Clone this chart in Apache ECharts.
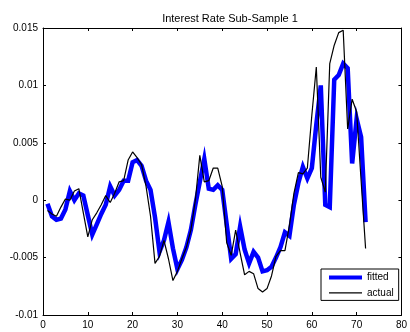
<!DOCTYPE html>
<html>
<head>
<meta charset="utf-8">
<script src="https://cdn.jsdelivr.net/npm/echarts@6/dist/echarts.min.js"></script>
<style>html,body{margin:0;padding:0;background:#fff;}#c{width:410px;height:332px;}</style>
</head>
<body>
<div id="c"></div>
<script>
const titleText = 'Interest Rate Sub-Sample 1';
const xTicks = [0, 10, 20, 30, 40, 50, 60, 70, 80];
const yTicks = [-0.01, -0.005, 0, 0.005, 0.01, 0.015];
const periods = [];
for (let i = 1; i <= 72; i++) periods.push(i);
const fitted = [
  -0.0003, -0.0014, -0.0017, -0.0016, -0.0008, 0.0008, 0.0000, 0.0006, 0.0004, -0.0013,
  -0.0030, -0.0021, -0.0012, -0.0004, 0.0012, 0.0004, 0.0009, 0.0017, 0.0017, 0.0033,
  0.0035, 0.0030, 0.0017, 0.0009, -0.0015, -0.0045, -0.0035, -0.0019, -0.0042, -0.0060,
  -0.0052, -0.0041, -0.0026, -0.0004, 0.0016, 0.0036, 0.0010, 0.0009, 0.0013, 0.0009,
  -0.0021, -0.0051, -0.0047, -0.0023, -0.0043, -0.0055, -0.0045, -0.0050, -0.0062, -0.0061,
  -0.0058, -0.0050, -0.0041, -0.0028, -0.0031, -0.0004, 0.0015, 0.0029, 0.0019, 0.0028,
  0.0066, 0.0100, -0.0004, -0.0006, 0.0105, 0.0109, 0.0119, 0.0115, 0.0032, 0.0071,
  0.0055, -0.0019
];
const actual = [
  -0.0009, -0.0012, -0.0014, -0.0006, 0.0001, 0.0000, 0.0008, 0.0010, -0.0011, -0.0032,
  -0.0017, -0.0011, -0.0004, 0.0004, -0.0002, 0.0006, 0.0016, 0.0017, 0.0035, 0.0042,
  0.0037, 0.0031, 0.0012, -0.0014, -0.0055, -0.0049, -0.0035, -0.0051, -0.0070, -0.0062,
  -0.0051, -0.0041, -0.0026, 0.0000, 0.0039, 0.0016, 0.0017, 0.0028, 0.0028, 0.0012,
  -0.0037, -0.0048, -0.0026, -0.0046, -0.0065, -0.0062, -0.0064, -0.0077, -0.0080, -0.0077,
  -0.0066, -0.0049, -0.0044, -0.0044, -0.0022, 0.0006, 0.0024, 0.0023, 0.0028, 0.0074,
  0.0116, 0.0020, 0.0007, 0.0119, 0.0135, 0.0146, 0.0148, 0.0062, 0.0088, 0.0077,
  0.0017, -0.0042
];
const seriesNames = ['fitted', 'actual'];

const font = 'Liberation Sans, Arial, Helvetica, sans-serif';
const chart = echarts.init(document.getElementById('c'), null, {renderer: 'canvas'});
const xMin = xTicks[0], xMax = xTicks[xTicks.length - 1], xInt = xTicks[1] - xTicks[0];
const yMin = yTicks[0], yMax = yTicks[yTicks.length - 1], yInt = yTicks[1] - yTicks[0];
const axisCommon = {
  axisLine: {show: true, onZero: false, lineStyle: {color: '#000', width: 1}},
  axisTick: {show: true, inside: true, length: 3, lineStyle: {color: '#000'}},
  splitLine: {show: false}
};
chart.setOption({
  animation: false,
  backgroundColor: '#fff',
  title: {
    text: titleText, left: 225, top: 8, textAlign: 'center',
    textStyle: {fontFamily: font, fontSize: 11, fontWeight: 'normal', color: '#000'}
  },
  grid: {left: 43, top: 28, right: 3, bottom: 17, containLabel: false},
  legend: {
    show: true,
    data: [
      {name: seriesNames[0], lineStyle: {width: 4, color: '#0000ff'}, itemStyle: {opacity: 0, borderWidth: 0, color: 'rgba(0,0,0,0)'}},
      {name: seriesNames[1], lineStyle: {width: 1.3, color: '#000'}, itemStyle: {opacity: 0, borderWidth: 0, color: 'rgba(0,0,0,0)'}}
    ],
    orient: 'vertical', left: 321, top: 269,
    itemWidth: 33, itemHeight: 14, itemGap: 4,
    padding: [3, 5, 2, 6],
    borderColor: '#000', borderWidth: 1, backgroundColor: '#fff',
    textStyle: {fontFamily: font, fontSize: 10, color: '#000'}
  },
  xAxis: [
    Object.assign({type: 'value', min: xMin, max: xMax, interval: xInt, position: 'bottom',
      axisLabel: {fontFamily: font, fontSize: 10, color: '#000', margin: 5, showMaxLabel: true, showMinLabel: true}}, axisCommon),
    Object.assign({type: 'value', min: xMin, max: xMax, interval: xInt, position: 'top',
      axisLabel: {show: false}}, axisCommon)
  ],
  yAxis: [
    Object.assign({type: 'value', min: yMin, max: yMax, interval: yInt, position: 'left',
      axisLabel: {fontFamily: font, fontSize: 10, color: '#000', margin: 5,
        formatter: v => String(Math.round(v * 1000) / 1000)}}, axisCommon),
    Object.assign({type: 'value', min: yMin, max: yMax, interval: yInt, position: 'right',
      axisLabel: {show: false}}, axisCommon)
  ],
  series: [
    {name: seriesNames[0], type: 'line', xAxisIndex: 0, yAxisIndex: 0, showSymbol: false, symbol: 'none',
      data: periods.map((p, i) => [p, fitted[i]]),
      lineStyle: {color: '#0000ff', width: 4.5, join: 'miter'}, itemStyle: {color: '#0000ff'}, z: 2},
    {name: seriesNames[1], type: 'line', xAxisIndex: 0, yAxisIndex: 0, showSymbol: false, symbol: 'none',
      data: periods.map((p, i) => [p, actual[i]]),
      lineStyle: {color: '#000', width: 1.2}, itemStyle: {color: '#000'}, z: 3}
  ]
});
</script>
</body>
</html>
